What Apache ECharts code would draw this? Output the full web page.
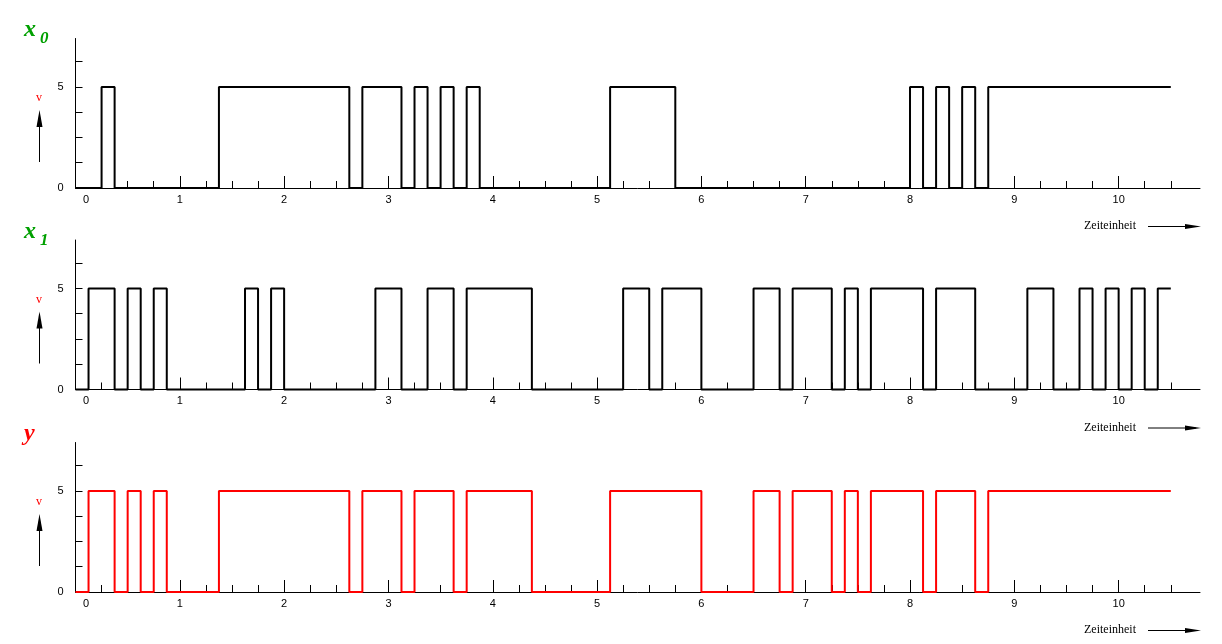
<!DOCTYPE html>
<html><head><meta charset="utf-8">
<script src="https://cdn.jsdelivr.net/npm/echarts@6/dist/echarts.min.js"></script>
<style>html,body{margin:0;padding:0;background:#fff}#c{width:1222px;height:644px}</style>
</head><body><div id="c"></div><script>
// ---- data ----
const x0Times  = [0, 0.25, 0.375, 1.375, 2.625, 2.75, 3.125, 3.25, 3.375, 3.5, 3.625, 3.75, 3.875, 5.125, 5.75, 8, 8.125, 8.25, 8.375, 8.5, 8.625, 8.75, 10.5];
const x0Levels = [0, 5, 0, 5, 0, 5, 0, 5, 0, 5, 0, 5, 0, 5, 0, 5, 0, 5, 0, 5, 0, 5, 5];

const x1Times  = [0, 0.125, 0.375, 0.5, 0.625, 0.75, 0.875, 1.625, 1.75, 1.875, 2, 2.875, 3.125, 3.375, 3.625, 3.75, 4.375, 5.25, 5.5, 5.625, 6, 6.5, 6.75, 6.875, 7.25, 7.375, 7.5, 7.625, 8.125, 8.25, 8.625, 9.125, 9.375, 9.625, 9.75, 9.875, 10, 10.125, 10.25, 10.375, 10.5];
const x1Levels = [0, 5, 0, 5, 0, 5, 0, 5, 0, 5, 0, 5, 0, 5, 0, 5, 0, 5, 0, 5, 0, 5, 0, 5, 0, 5, 0, 5, 0, 5, 0, 5, 0, 5, 0, 5, 0, 5, 0, 5, 5];

const yTimes   = [0, 0.125, 0.375, 0.5, 0.625, 0.75, 0.875, 1.375, 2.625, 2.75, 3.125, 3.25, 3.625, 3.75, 4.375, 5.125, 6, 6.5, 6.75, 6.875, 7.25, 7.375, 7.5, 7.625, 8.125, 8.25, 8.625, 8.75, 10.5];
const yLevels  = [0, 5, 0, 5, 0, 5, 0, 5, 0, 5, 0, 5, 0, 5, 0, 5, 0, 5, 0, 5, 0, 5, 0, 5, 0, 5, 0, 5, 5];

const xMajorTicks = [0, 1, 2, 3, 4, 5, 6, 7, 8, 9, 10];
const xMinorTicks = [];
for (let i = 1; i <= 42; i++) { if (i % 4 !== 0) xMinorTicks.push(i * 0.25); }
const yTickValues = [1.25, 2.5, 3.75, 5, 6.25];
const yLabelValues = [0, 5];

const panelTitles = [
  { main: 'x', sub: '0', color: '#00a000' },
  { main: 'x', sub: '1', color: '#00a000' },
  { main: 'y', sub: '',  color: '#ff0000' }
];
const panelSeries = [
  { t: x0Times, v: x0Levels, color: '#000000' },
  { t: x1Times, v: x1Levels, color: '#000000' },
  { t: yTimes,  v: yLevels,  color: '#ff0000' }
];
const axisUnitLabel = 'Zeiteinheit';
const valueUnitLabel = 'v';

// ---- layout ----
const gridLeft = 75.5, gridWidth = 1124.5, gridH = 149.5;
const gridTops = [38.5, 240, 442.5];
const X_MAX = 10.78, Y_MAX = 7.4;

const chart = echarts.init(document.getElementById('c'), null, {renderer: 'canvas'});
const grids = [], xAxes = [], yAxes = [], series = [], graphics = [];
const numFont = 'Liberation Sans';
const serif = 'Liberation Serif';

gridTops.forEach((top, g) => {
  grids.push({ left: gridLeft, top: top, width: gridWidth, height: gridH });
  xAxes.push({
    type: 'value', gridIndex: g, min: 0, max: X_MAX, position: 'bottom',
    axisLine: { show: true, onZero: false, lineStyle: { color: '#000', width: 1 } },
    axisTick: { show: true, inside: true, length: 12, customValues: xMajorTicks, lineStyle: { color: '#000', width: 1 } },
    axisLabel: {
      show: true, customValues: xMajorTicks, margin: 6, color: '#000', fontSize: 11, fontFamily: numFont,
      formatter: v => v === 0 ? '{z|0}' : String(v),
      rich: { z: { padding: [0, 0, 0, 21], fontSize: 11, fontFamily: numFont, color: '#000' } }
    },
    splitLine: { show: false }
  });
  xAxes.push({
    type: 'value', gridIndex: g, min: 0, max: X_MAX, position: 'bottom',
    axisLine: { show: false, onZero: false },
    axisTick: { show: true, inside: true, length: 7, customValues: xMinorTicks, lineStyle: { color: '#000', width: 1 } },
    axisLabel: { show: false },
    splitLine: { show: false }
  });
  yAxes.push({
    type: 'value', gridIndex: g, min: 0, max: Y_MAX, position: 'left',
    axisLine: { show: true, onZero: false, lineStyle: { color: '#000', width: 1 } },
    axisTick: { show: false },
    axisLabel: { show: true, customValues: yLabelValues, margin: 12, color: '#000', fontSize: 11, fontFamily: numFont, padding: [0, 0, 8, 0] },
    splitLine: { show: false }
  });
  yAxes.push({
    type: 'value', gridIndex: g, min: 0, max: Y_MAX, position: 'left',
    axisLine: { show: false, onZero: false },
    axisTick: { show: true, inside: true, length: 7, customValues: yTickValues, lineStyle: { color: '#000', width: 1 } },
    axisLabel: { show: false },
    splitLine: { show: false }
  });
  const s = panelSeries[g];
  series.push({
    type: 'line', xAxisIndex: 2 * g, yAxisIndex: 2 * g, step: 'end', symbol: 'none',
    data: s.t.map((t, i) => [t, s.v[i]]),
    lineStyle: { color: s.color, width: 2 }, itemStyle: { color: s.color },
    z: 5, animation: false, clip: false
  });

  const base = top + gridH;
  const tt = panelTitles[g];
  graphics.push({ type: 'text', x: 24, y: base - 158, style: { text: tt.main, fill: tt.color, font: 'italic bold 24px "' + serif + '"', align: 'left', verticalAlign: 'middle' } });
  if (tt.sub) graphics.push({ type: 'text', x: 40, y: base - 149, style: { text: tt.sub, fill: tt.color, font: 'italic bold 17px "' + serif + '"', align: 'left', verticalAlign: 'middle' } });
  // value unit with upward arrow
  graphics.push({ type: 'text', x: 39, y: base - 90, style: { text: valueUnitLabel, fill: '#ff0000', font: '12px "' + serif + '"', align: 'center', verticalAlign: 'middle' } });
  graphics.push({ type: 'line', shape: { x1: 39.5, y1: base - 26, x2: 39.5, y2: base - 70 }, style: { stroke: '#000', lineWidth: 1 } });
  graphics.push({ type: 'polygon', shape: { points: [[39.5, base - 78], [36.5, base - 61], [42.5, base - 61]] }, style: { fill: '#000' } });
  // time unit with right arrow
  const ty = base + 38;
  graphics.push({ type: 'text', x: 1084, y: ty, style: { text: axisUnitLabel, fill: '#000', font: '12px "' + serif + '"', align: 'left', verticalAlign: 'middle' } });
  graphics.push({ type: 'line', shape: { x1: 1148, y1: ty + 0.5, x2: 1196, y2: ty + 0.5 }, style: { stroke: '#000', lineWidth: 1 } });
  graphics.push({ type: 'polygon', shape: { points: [[1201, ty + 0.5], [1185, ty - 2], [1185, ty + 3]] }, style: { fill: '#000' } });
});

chart.setOption({
  backgroundColor: '#fff',
  animation: false,
  grid: grids, xAxis: xAxes, yAxis: yAxes, series: series,
  graphic: graphics
});
</script></body></html>
